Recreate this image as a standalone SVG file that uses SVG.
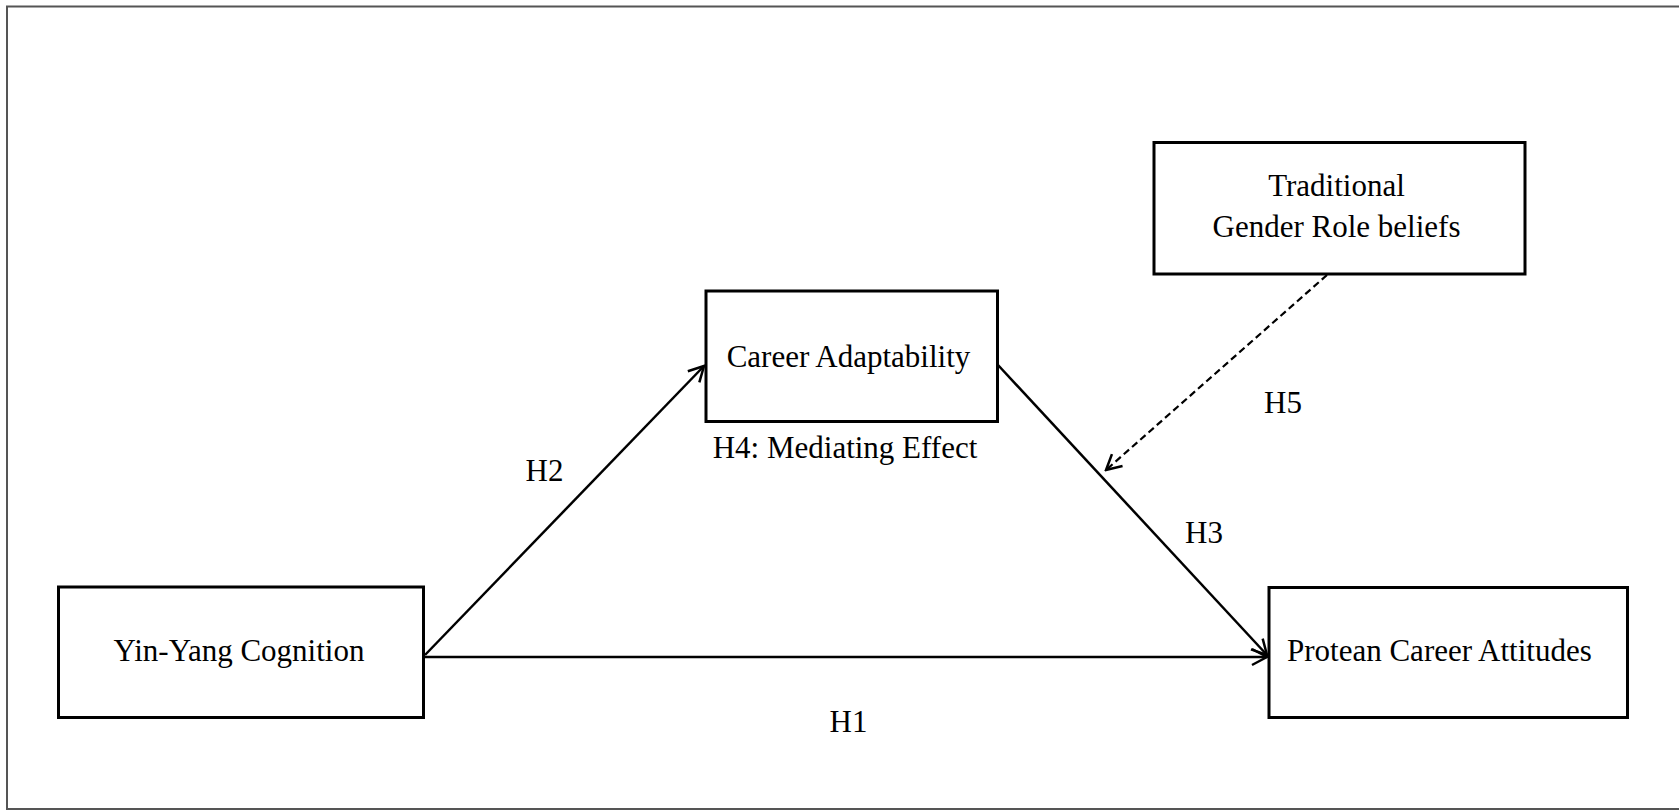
<svg xmlns="http://www.w3.org/2000/svg" width="1679" height="811" viewBox="0 0 1679 811">
<style>
.box{fill:#fff;stroke:#000;stroke-width:3}
.t{font-family:"Liberation Serif","Times New Roman",serif;font-size:31px;fill:#000}
.c{text-anchor:middle}
.ln{fill:none;stroke:#000;stroke-width:2.5}
.dash{fill:none;stroke:#000;stroke-width:2.2;stroke-dasharray:7 4}
</style>
<defs>
<marker id="ah" viewBox="0 0 20 20" refX="18" refY="10" markerWidth="20" markerHeight="20" markerUnits="userSpaceOnUse" orient="auto">
<path d="M3,2 L18,10 L3,18" fill="none" stroke="#000" stroke-width="2.5"/>
</marker>
</defs>
<rect x="7" y="6.5" width="1690" height="802.5" fill="#fff" stroke="#555" stroke-width="2"/>
<g id="connectors">
<line class="ln" x1="425" y1="657" x2="1267" y2="657" marker-end="url(#ah)"/>
<line class="ln" x1="425" y1="655" x2="704" y2="366" marker-end="url(#ah)"/>
<line class="ln" x1="998" y1="365" x2="1267" y2="655" marker-end="url(#ah)"/>
<line class="dash" x1="1327" y1="275" x2="1106" y2="470" marker-end="url(#ah)"/>
</g>
<g id="yinyang">
<rect class="box" x="58.5" y="587" width="365" height="130.5"/>
<text class="t c" x="239" y="660.5">Yin-Yang Cognition</text>
</g>
<g id="career">
<rect class="box" x="706" y="291" width="291.5" height="130.5"/>
<text class="t c" x="848.5" y="366.5">Career Adaptability</text>
</g>
<g id="traditional">
<rect class="box" x="1154" y="142.5" width="371" height="131.5"/>
<text class="t c" x="1336.5" y="195.5">Traditional</text>
<text class="t c" x="1336.5" y="236.5">Gender Role beliefs</text>
</g>
<g id="protean">
<rect class="box" x="1269" y="587.5" width="358.5" height="130"/>
<text class="t" x="1287" y="660.5">Protean Career Attitudes</text>
</g>
<g id="labels">
<text class="t c" x="845" y="458">H4: Mediating Effect</text>
<text class="t c" x="544.5" y="481">H2</text>
<text class="t c" x="1283" y="413">H5</text>
<text class="t c" x="1204" y="543">H3</text>
<text class="t c" x="848.5" y="732">H1</text>
</g>
</svg>
